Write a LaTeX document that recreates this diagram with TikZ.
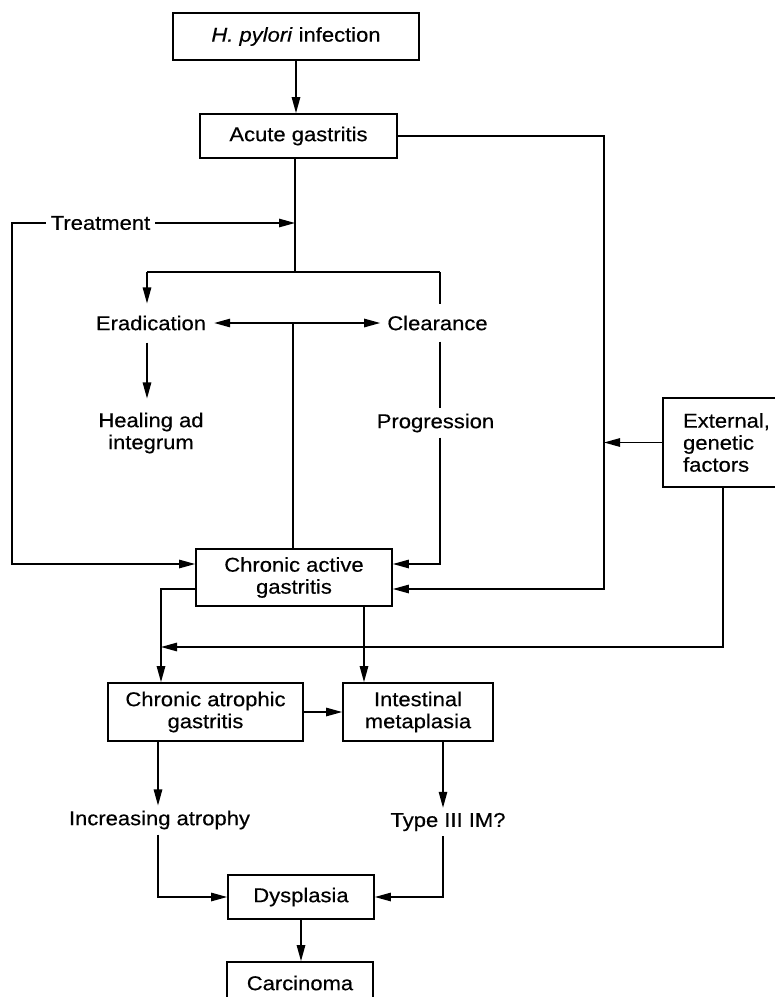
\documentclass[tikz,border=0pt]{standalone}
\usepackage{fontspec}
\setmainfont{Liberation Sans}[FakeStretch=1.1,FakeBold=0.4]
\usetikzlibrary{arrows.meta,calc}
\begin{document}
\begin{tikzpicture}[x=1pt,y=-1pt,
  font=\fontsize{20}{22}\selectfont,
  box/.style={draw, line width=1.8pt, inner sep=0pt, align=center},
  lbl/.style={inner xsep=7pt, inner ysep=5pt, align=center},
  conn/.style={line width=1.3pt},
  arr/.style={conn, -{Triangle[length=16pt,width=8.5pt]}},
  darr/.style={conn, {Triangle[length=16pt,width=8.5pt]}-{Triangle[length=16pt,width=8.5pt]}}]
\useasboundingbox (0,0) rectangle (775,997);
\clip (0,0) rectangle (775,997);

% boxes
\node[box, minimum width=246pt, minimum height=47pt] (hp) at (296,36.5) {\textit{H. pylori} infection};
\node[box, minimum width=197pt, minimum height=44pt] (acute) at (298.5,136) {Acute gastritis};
\node[box, minimum width=196pt, minimum height=57pt] (chronic) at (294,577.5) {Chronic active\\gastritis};
\node[box, minimum width=195pt, minimum height=58pt] (atro) at (205.5,712) {Chronic atrophic\\gastritis};
\node[box, minimum width=150pt, minimum height=58pt] (intest) at (418,712) {Intestinal\\metaplasia};
\node[box, minimum width=146pt, minimum height=44pt] (dys) at (301,897) {Dysplasia};
\node[box, minimum width=146pt, minimum height=42pt] (carc) at (300,983) {Carcinoma};
\node[box, minimum width=127pt, minimum height=89pt, align=left] (ext) at (726.5,442.5) {External,\\genetic\\factors};

% labels
\node[lbl, inner xsep=5pt] (treat) at (100.5,223) {Treatment};
\node[lbl, inner xsep=8pt, inner ysep=12pt] (erad) at (151,323) {Eradication};
\node[lbl, inner xsep=7pt, inner ysep=11pt] (clear) at (437.5,323) {Clearance};
\node[lbl, inner ysep=14pt] (heal) at (151,433) {Healing ad\\integrum};
\node[lbl, inner ysep=5pt] (prog) at (435.5,423) {Progression};
\node[lbl] (incr) at (159.5,820) {Increasing atrophy};
\node[lbl] (type) at (448,822) {Type III IM?};

% helper coordinates
\coordinate (jTop) at (295,272);
\coordinate (jL) at (147,272);
\coordinate (jR) at (440,272);
\coordinate (mid) at (293,323);
\coordinate (cTL) at (12,223);
\coordinate (cR) at (604,0);
\coordinate (cA) at (161,0);
\coordinate (cB) at (364,0);
\coordinate (cD) at (158,0);
\coordinate (cE) at (443,0);
\coordinate (hExt) at (0,647);
\coordinate (caIn1) at ([yshift=13.5pt]chronic.west);
\coordinate (caOut) at ([yshift=-11.5pt]chronic.west);
\coordinate (caIn2) at ([yshift=13.5pt]chronic.east);
\coordinate (caIn3) at ([yshift=-11.5pt]chronic.east);
\coordinate (extOut) at ([xshift=-3.5pt]ext.south);

% connectors
\draw[arr] (hp.south) -- (hp.south |- acute.north);
\draw[conn] (jTop |- acute.south) -- (jTop);
\draw[conn] (jL) -- (jR);
\draw[arr] (jL) -- (jL |- erad.north);
\draw[conn] (jR) -- (jR |- clear.north);
\draw[arr] (treat.west) -- (cTL) |- (caIn1);
\draw[arr] (treat.east) -- (treat.east -| jTop);
\draw[darr] (erad.east) -- (clear.west);
\draw[conn] (mid) -- (mid |- chronic.north);
\draw[arr] (jL |- erad.south) -- (jL |- heal.north);
\draw[conn] (jR |- clear.south) -- (jR |- prog.north);
\draw[arr] (jR |- prog.south) |- (caIn2);
\draw[arr] (acute.east) -- (acute.east -| cR) |- (caIn3);
\draw[arr] (ext.west) -- (ext.west -| cR);
\draw[arr] (extOut) |- (cA |- hExt);
\draw[arr] (caOut) -| (cA |- atro.north);
\draw[arr] (cB |- chronic.south) -- (cB |- intest.north);
\draw[arr] (atro.east) -- (intest.west);
\draw[arr] (cD |- atro.south) -- (cD |- incr.north);
\draw[arr] (cE |- intest.south) -- (cE |- type.north);
\draw[arr] (cD |- incr.south) |- (dys.west);
\draw[arr] (cE |- type.south) |- (dys.east);
\draw[arr] (dys.south) -- (dys.south |- carc.north);
\end{tikzpicture}
\end{document}
